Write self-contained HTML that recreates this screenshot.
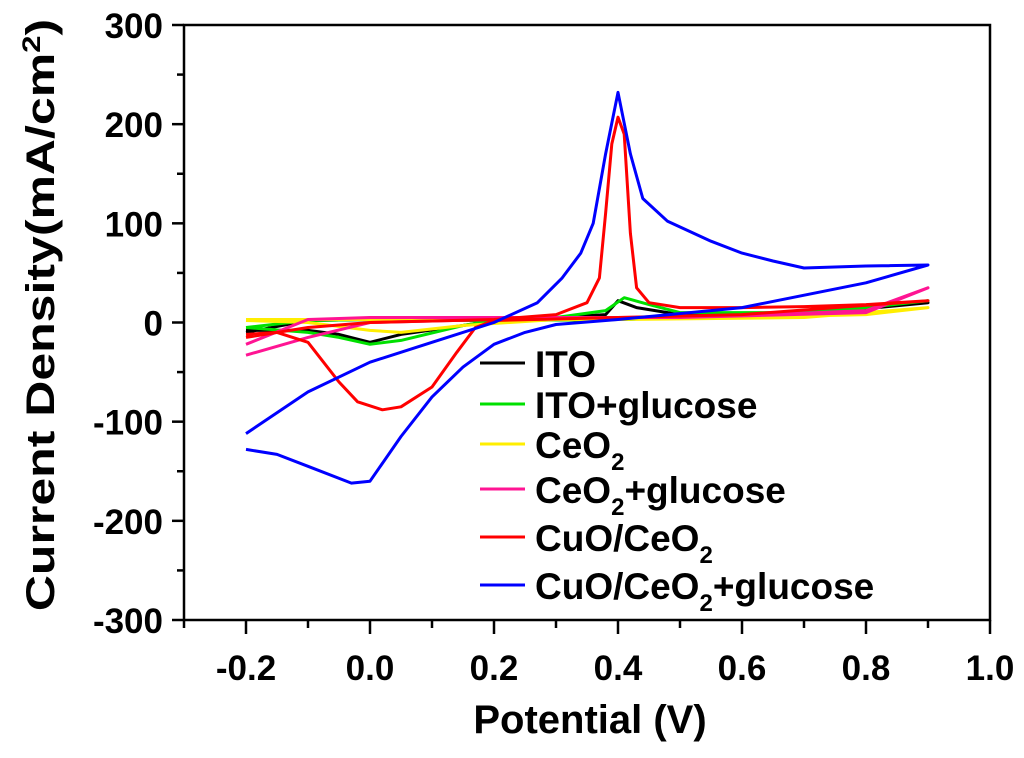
<!DOCTYPE html>
<html><head><meta charset="utf-8"><style>
body{margin:0;background:#fff}
svg{font-family:"Liberation Sans",Arial,sans-serif;font-weight:bold}
</style></head><body>
<svg id="chart" width="1024" height="753" viewBox="0 0 1024 753" xmlns="http://www.w3.org/2000/svg">
<g id="plot"></g>
</svg>
<script>
const xTicks = [-0.2,0.0,0.2,0.4,0.6,0.8,1.0];
const xTickLabels = ["-0.2","0.0","0.2","0.4","0.6","0.8","1.0"];
const yTicks = [300,200,100,0,-100,-200,-300];
const yTickLabels = ["300","200","100","0","-100","-200","-300"];
const seriesNames = ["ITO","ITO+glucose","CeO2","CeO2+glucose","CuO/CeO2","CuO/CeO2+glucose"];
const seriesColors = ["#000000","#00e000","#ffee00","#ff1493","#ff0000","#0000ff"];
const ito = [[-0.2,-8],[-0.1,-8],[-0.05,-12],[0.0,-20],[0.05,-12],[0.15,-3],[0.2,2],[0.3,5],[0.38,8],[0.4,22],[0.43,15],[0.5,8],[0.7,10],[0.9,20],[0.7,8],[0.4,3],[0.2,2],[0.0,3],[-0.1,2],[-0.2,-10]];
const itoGlucose = [[-0.2,-5],[-0.1,-10],[-0.05,-15],[0.0,-22],[0.05,-18],[0.15,-3],[0.2,2],[0.3,5],[0.38,12],[0.41,25],[0.45,18],[0.5,10],[0.7,10],[0.9,22],[0.7,8],[0.4,3],[0.2,2],[0.0,3],[-0.1,2],[-0.2,-5]];
const ceo2 = [[-0.2,2],[-0.1,0],[0.0,-8],[0.05,-10],[0.15,-3],[0.3,3],[0.6,5],[0.8,8],[0.9,15],[0.7,5],[0.4,3],[0.1,3],[-0.2,3]];
const ceo2Glucose = [[-0.2,-33],[-0.1,-15],[0.0,0],[0.2,3],[0.4,5],[0.6,7],[0.8,12],[0.9,35],[0.8,10],[0.5,5],[0.2,5],[0.0,5],[-0.1,3],[-0.2,-22]];
const cuoCeo2 = [[-0.2,-15],[-0.1,-5],[0.0,0],[0.2,3],[0.3,8],[0.35,20],[0.37,45],[0.38,110],[0.39,180],[0.4,207],[0.41,190],[0.42,90],[0.43,35],[0.45,20],[0.5,15],[0.6,15],[0.7,16],[0.8,18],[0.9,22],[0.6,8],[0.4,5],[0.2,2],[0.17,-5],[0.14,-30],[0.1,-65],[0.05,-85],[0.02,-88],[-0.02,-80],[-0.05,-60],[-0.1,-20],[-0.15,-10],[-0.2,-12]];
const cuoCeo2Glucose = [[-0.2,-112],[-0.1,-70],[0.0,-40],[0.1,-20],[0.2,0],[0.27,20],[0.31,45],[0.34,70],[0.36,100],[0.38,170],[0.4,232],[0.42,170],[0.44,125],[0.48,102],[0.55,82],[0.6,70],[0.65,62],[0.7,55],[0.8,57],[0.9,58],[0.8,40],[0.6,15],[0.4,3],[0.3,-2],[0.25,-10],[0.2,-22],[0.15,-45],[0.1,-75],[0.05,-115],[0.0,-160],[-0.03,-162],[-0.1,-145],[-0.15,-133],[-0.2,-128]];
const allSeries = [ito,itoGlucose,ceo2,ceo2Glucose,cuoCeo2,cuoCeo2Glucose];

const X0=184, X1=990, Y0=25, Y1=620, xmin=-0.3, xmax=1.0, ymin=-300, ymax=300;
function sx(v){return X0+(v-xmin)/(xmax-xmin)*(X1-X0);}
function sy(v){return Y1-(v-ymin)/(ymax-ymin)*(Y1-Y0);}
const NS="http://www.w3.org/2000/svg";
const g=document.getElementById('plot');
function mk(tag,attrs,parent){const e=document.createElementNS(NS,tag);for(const k in attrs)e.setAttribute(k,attrs[k]);(parent||g).appendChild(e);return e;}

allSeries.forEach((s,i)=>{
  const p=mk('polyline',{points:s.map(d=>sx(d[0]).toFixed(1)+','+sy(d[1]).toFixed(1)).join(' '),fill:'none',stroke:seriesColors[i],'stroke-width':3,'stroke-linejoin':'round'});
  
  
});
const fr=mk('rect',{x:X0,y:Y0,width:X1-X0,height:Y1-Y0,fill:'none',stroke:'#000','stroke-width':2.5});


for(let v=-0.3;v<=1.001;v+=0.1){
  const major=Math.abs(Math.round(v*10)%2)===0;
  const t=mk('line',{x1:sx(v),x2:sx(v),y1:Y1,y2:Y1+(major?14:8),stroke:'#000','stroke-width':2.5});
  
  
}
xTicks.forEach((v,i)=>{
  const t=mk('text',{x:sx(v),y:680,'text-anchor':'middle','font-size':35});
  t.textContent=xTickLabels[i];
  
  
});
for(let v=-300;v<=300;v+=50){
  const major=v%100===0;
  const t=mk('line',{x1:X0,x2:X0-(major?12:7),y1:sy(v),y2:sy(v),stroke:'#000','stroke-width':2.5});
  
  
}
yTicks.forEach((v,i)=>{
  const t=mk('text',{x:X0-21,y:sy(v)+13,'text-anchor':'end','font-size':35});
  t.textContent=yTickLabels[i];
  
  
});
const xt=mk('text',{x:590,y:733,'text-anchor':'middle','font-size':40});
xt.textContent='Potential (V)';


const yt=mk('text',{x:0,y:0,'text-anchor':'middle','font-size':40,transform:'translate(54,315) rotate(-90) scale(1.25,1)'});
yt.innerHTML='Current Density(mA/cm<tspan dy="-14" font-size="25">2</tspan><tspan dy="14">)</tspan>';


const legY=[363,404,444,489,537,585];
const legHtml=['ITO','ITO+glucose','CeO<tspan dy="12" font-size="24">2</tspan>','CeO<tspan dy="12" font-size="24">2</tspan><tspan dy="-12">+glucose</tspan>','CuO/CeO<tspan dy="12" font-size="24">2</tspan>','CuO/CeO<tspan dy="12" font-size="24">2</tspan><tspan dy="-12">+glucose</tspan>'];
legY.forEach((y,i)=>{
  const l=mk('line',{x1:480,x2:525,y1:y,y2:y,stroke:seriesColors[i],'stroke-width':3});
  
  
  const t=mk('text',{x:535,y:y+14,'font-size':37});
  t.innerHTML=legHtml[i];
  
  
});
</script>
</body></html>
